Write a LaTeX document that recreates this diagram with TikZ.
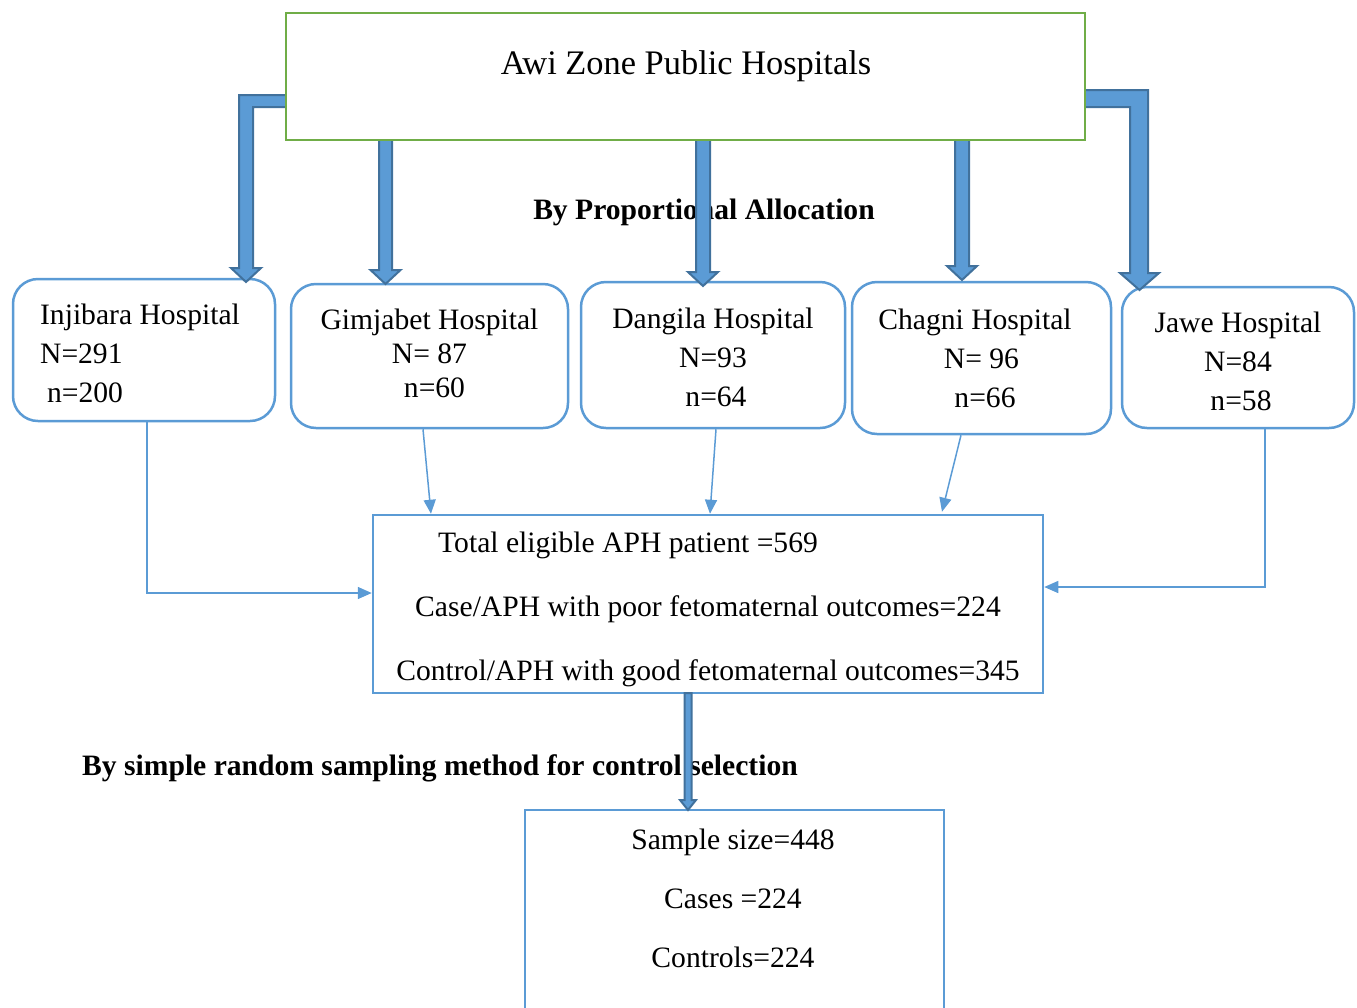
\documentclass[tikz,border=0pt]{standalone}
\usepackage{fontspec}
\setmainfont{Liberation Serif}
\usetikzlibrary{arrows.meta,positioning}

\definecolor{boxblue}{RGB}{91,155,213}
\definecolor{boxgreen}{RGB}{112,173,71}
\definecolor{arrowedge}{RGB}{65,113,156}

% block arrow pointing down: x, top, tip, shaft half width, head half width, head length
\newcommand\blockdown[6]{%
  \filldraw[blockarrow] (#1-#4,#2) -- (#1-#4,#3-#6) -- (#1-#5,#3-#6) -- (#1,#3)
    -- (#1+#5,#3-#6) -- (#1+#4,#3-#6) -- (#1+#4,#2) -- cycle;}

\begin{document}
\begin{tikzpicture}[x=0.5pt,y=-0.5pt,
  hospital/.style={draw=boxblue, line width=1.25pt, rounded corners=12.5pt, inner sep=0pt,
    font=\fontsize{14.8}{19.5}\selectfont},
  sqbox/.style={draw=boxblue, line width=1.25pt, inner sep=0pt},
  bodytext/.style={inner sep=0pt, align=center},
  steplabel/.style={inner sep=0pt, font=\fontsize{14.8}{18}\selectfont\bfseries},
  blockarrow/.style={fill=boxblue, draw=arrowedge, line width=1pt, line join=miter},
  link/.style={draw=boxblue, line width=0.75pt, -{Triangle[length=7pt,width=6pt]}}]
\useasboundingbox (0,0) rectangle (1357,1008);

% labels
\node[steplabel] (propalloc) at (704,212) {By Proportional Allocation};
\node[steplabel] (srsample) at (440,768) {By simple random sampling method for control selection};

% hospitals
\node[hospital, align=left, minimum width=131pt, minimum height=71pt] (inj) at (144,350)
  {\rule{0pt}{13.6pt}Injibara Hospital\hspace*{4pt}\\N=291\\\hspace*{3.5pt}n=200};
\node[hospital, align=center, minimum width=138.5pt, minimum height=72pt,
  font=\fontsize{14.8}{17}\selectfont] (gim) at (429.5,356)
  {Gimjabet Hospital\\N= 87\\\hspace*{5pt}n=60\rule[-3pt]{0pt}{3pt}};
\node[hospital, align=center, minimum width=132pt, minimum height=73pt] (dan) at (713,355)
  {\rule{0pt}{12.6pt}Dangila Hospital\\N=93\\\hspace*{3pt}n=64};
\node[hospital, align=center, minimum width=129.5pt, minimum height=76pt] (cha) at (981.5,358)
  {Chagni Hospital\hspace*{6.5pt}\\N= 96\\\hspace*{3.5pt}n=66};
\node[hospital, align=center, minimum width=116pt, minimum height=70.5pt] (jaw) at (1238,357.5)
  {\rule{0pt}{14.6pt}Jawe Hospital\\N=84\\\hspace*{3pt}n=58};

% totals
\node[sqbox, bodytext, minimum width=335pt, minimum height=89pt,
  font=\fontsize{14.8}{32}\selectfont] (tot) at (708,604)
  {\rule{0pt}{16.1pt}Total eligible APH patient =569\hspace*{80pt}\\
   Case/APH with poor fetomaternal outcomes=224\\
   Control/APH with good fetomaternal outcomes=345};

% sample
\node[sqbox, minimum width=209.5pt, minimum height=115pt] (spl) at (734.5,925) {};
\node[bodytext, font=\fontsize{14.8}{29.5}\selectfont] (spltext) at (733,898)
  {Sample size=448\\Cases =224\\Controls=224};

% thin connectors
\draw[link] ([xshift=1.5pt]inj.south) |- ([yshift=5.5pt]tot.west);
\draw[link] ([xshift=-3.25pt]gim.south) -- ([xshift=-138.5pt]tot.north);
\draw[link] ([xshift=1.5pt]dan.south) -- ([xshift=1pt]tot.north);
\draw[link] ([xshift=-10.25pt]cha.south) -- ([xshift=117pt,yshift=1pt]tot.north);
\draw[link] ([xshift=13.5pt]jaw.south) |- ([yshift=8.5pt]tot.east);

% block arrows
\filldraw[blockarrow] (292,95) -- (239,95) -- (239,268) -- (231,268) -- (246,282)
  -- (261,268) -- (253,268) -- (253,107) -- (292,107) -- cycle;
\filldraw[blockarrow] (1080,90) -- (1148,90) -- (1148,273) -- (1159,273) -- (1139.5,290)
  -- (1120,273) -- (1130,273) -- (1130,107) -- (1080,107) -- cycle;
\blockdown{385.5}{136}{284}{6.5}{15}{14}
\blockdown{703}{136}{286}{7}{15}{14}
\blockdown{962}{136}{280}{7}{15}{14}
\blockdown{688}{693}{810}{3.5}{8}{10}

% top box
\node[draw=boxgreen, fill=white, line width=1.25pt, minimum width=399.5pt, minimum height=63.5pt]
  (awi) at (685.5,76.5) {};
\node[inner sep=0pt, font=\fontsize{17.2}{20}\selectfont] (awitext) at (686,66) {Awi Zone Public Hospitals};
\end{tikzpicture}
\end{document}
